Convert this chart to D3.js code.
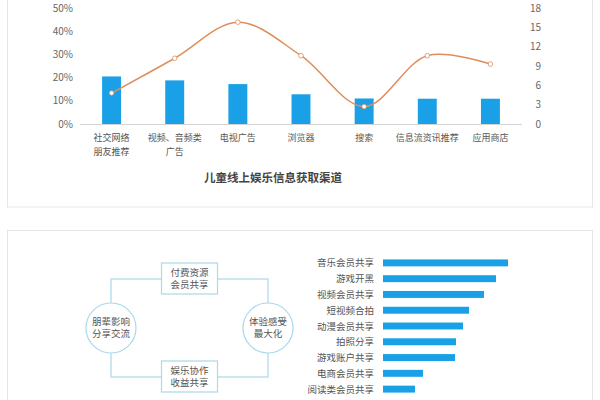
<!DOCTYPE html>
<html>
<head>
<meta charset="utf-8">
<script src="https://cdn.jsdelivr.net/npm/d3@7"></script>
<style>
  body { margin: 0; background: #fff; }
  svg { display: block; font-family: "Noto Sans CJK SC", "Noto Sans", sans-serif; }
</style>
</head>
<body>
<svg id="svgCanvas" width="600" height="400"></svg>
<script>
// top chart: channels
const channels = ["社交网络\n朋友推荐", "视频、音频类\n广告", "电视广告", "浏览器", "搜索", "信息流资讯推荐", "应用商店"];
const barShare = [0.205, 0.188, 0.172, 0.128, 0.11, 0.109, 0.109];
const lineValues = [4.8, 10.2, 15.8, 10.6, 2.7, 10.6, 9.3];
const leftTicks = [0, 0.1, 0.2, 0.3, 0.4, 0.5];
const rightTicks = [0, 3, 6, 9, 12, 15, 18];
const chartTitle = "儿童线上娱乐信息获取渠道";

// bottom right: sharing behaviours
const shareLabels = ["音乐会员共享", "游戏开黑", "视频会员共享", "短视频合拍", "动漫会员共享", "拍照分享", "游戏账户共享", "电商会员共享", "阅读类会员共享"];
const shareValues = [125, 113, 101, 86, 80, 73, 72, 40, 32];

// bottom left: cycle diagram
const cycleCols = ["left", "mid", "right"];
const cycleRows = ["top", "mid", "bottom"];
const cycleNodes = [
  { col: "mid", row: "top", shape: "box", lines: ["付费资源", "会员共享"] },
  { col: "right", row: "mid", shape: "circle", lines: ["体验感受", "最大化"] },
  { col: "mid", row: "bottom", shape: "box", lines: ["娱乐协作", "收益共享"] },
  { col: "left", row: "mid", shape: "circle", lines: ["朋辈影响", "分享交流"] }
];

const blue = "#1aa0e6";
const orange = "#e08d5c";
const pale = "#a9d9ea";

const svg = d3.select("#svgCanvas");

// cards
svg.append("rect").attr("x", 7.5).attr("y", -10).attr("width", 585).attr("height", 217)
  .attr("fill", "#fff").attr("stroke", "#e6e6e6");
svg.append("rect").attr("x", 7.5).attr("y", 230.5).attr("width", 585).attr("height", 190)
  .attr("fill", "#fff").attr("stroke", "#e6e6e6");

// ---- top combo chart ----
const x = d3.scaleBand().domain(channels).range([80, 522]).paddingInner(0.7).paddingOuter(0.35);
const yL = d3.scaleLinear().domain([0, 0.5]).range([124, 8]);
const yR = d3.scaleLinear().domain([0, 18]).range([124, 8]);

svg.append("line").attr("x1", 80).attr("x2", 522).attr("y1", yL(0) + 0.5).attr("y2", yL(0) + 0.5)
  .attr("stroke", "#d4d4d4");

svg.append("g").selectAll("text").data(leftTicks).join("text")
  .attr("x", 73).attr("y", d => yL(d) + 3.5)
  .attr("text-anchor", "end").attr("font-size", 10).attr("fill", "#666")
  .text(d => d3.format(".0%")(d));

svg.append("g").selectAll("text").data(rightTicks).join("text")
  .attr("x", 541).attr("y", d => yR(d) + 3.5)
  .attr("text-anchor", "end").attr("font-size", 10).attr("fill", "#666")
  .text(d => d);

svg.append("g").selectAll("rect").data(channels).join("rect")
  .attr("x", d => x(d))
  .attr("y", (d, i) => yL(barShare[i]))
  .attr("width", x.bandwidth())
  .attr("height", (d, i) => yL(0) - yL(barShare[i]))
  .attr("fill", blue);

const labels = svg.append("g").selectAll("text").data(channels).join("text")
  .attr("text-anchor", "middle").attr("font-size", 9).attr("fill", "#555");
labels.each(function(d) {
  const parts = d.split("\n");
  d3.select(this).selectAll("tspan").data(parts).join("tspan")
    .attr("x", x(d) + x.bandwidth() / 2)
    .attr("y", (p, j) => 141 + j * 13.5)
    .text(p => p);
});

const pts = channels.map((c, i) => [x(c) + x.bandwidth() / 2, yR(lineValues[i])]);
svg.append("path")
  .attr("d", d3.line().curve(d3.curveCatmullRom.alpha(0.5))(pts))
  .attr("fill", "none").attr("stroke", orange).attr("stroke-width", 1.5);
svg.append("g").selectAll("circle").data(pts).join("circle")
  .attr("cx", d => d[0]).attr("cy", d => d[1]).attr("r", 2.3)
  .attr("fill", "#fff").attr("stroke", orange).attr("stroke-width", 0.8);

svg.append("text").attr("x", 273).attr("y", 182)
  .attr("text-anchor", "middle").attr("font-size", 11.5).attr("font-weight", "bold").attr("fill", "#444")
  .text(chartTitle);

// ---- cycle diagram ----
const cx = d3.scalePoint().domain(cycleCols).range([111, 268]);
const cy = d3.scalePoint().domain(cycleRows).range([279, 377]);

svg.append("rect")
  .attr("x", cx("left")).attr("y", cy("top"))
  .attr("width", cx("right") - cx("left")).attr("height", cy("bottom") - cy("top"))
  .attr("fill", "none").attr("stroke", pale).attr("stroke-width", 1.2);

const nodeG = svg.append("g").selectAll("g").data(cycleNodes).join("g")
  .attr("transform", d => `translate(${cx(d.col)},${cy(d.row)})`);

nodeG.filter(d => d.shape === "box").append("rect")
  .attr("x", -28).attr("y", -16).attr("width", 56).attr("height", 31)
  .attr("fill", "#fff").attr("stroke", pale).attr("stroke-width", 1.2);
nodeG.filter(d => d.shape === "circle").append("circle")
  .attr("r", 25).attr("fill", "#fff").attr("stroke", pale).attr("stroke-width", 1.2);

nodeG.append("text").attr("text-anchor", "middle").attr("font-size", 9.5).attr("fill", "#555")
  .selectAll("tspan").data(d => d.lines).join("tspan")
  .attr("x", 0).attr("y", (p, j) => -3.5 + j * 12.5)
  .text(p => p);

// ---- horizontal bars ----
const yb = d3.scaleBand().domain(shareLabels).range([255, 397]).paddingInner(0.56).paddingOuter(0.28);
const xb = d3.scaleLinear().domain([0, 125]).range([383, 508]);

svg.append("g").selectAll("rect").data(shareLabels).join("rect")
  .attr("x", xb(0))
  .attr("y", d => yb(d))
  .attr("width", (d, i) => xb(shareValues[i]) - xb(0))
  .attr("height", yb.bandwidth())
  .attr("fill", blue);

svg.append("g").selectAll("text").data(shareLabels).join("text")
  .attr("x", 374).attr("y", d => yb(d) + yb.bandwidth() / 2 + 3.5)
  .attr("text-anchor", "end").attr("font-size", 9.5).attr("fill", "#555")
  .text(d => d);
</script>
</body>
</html>
